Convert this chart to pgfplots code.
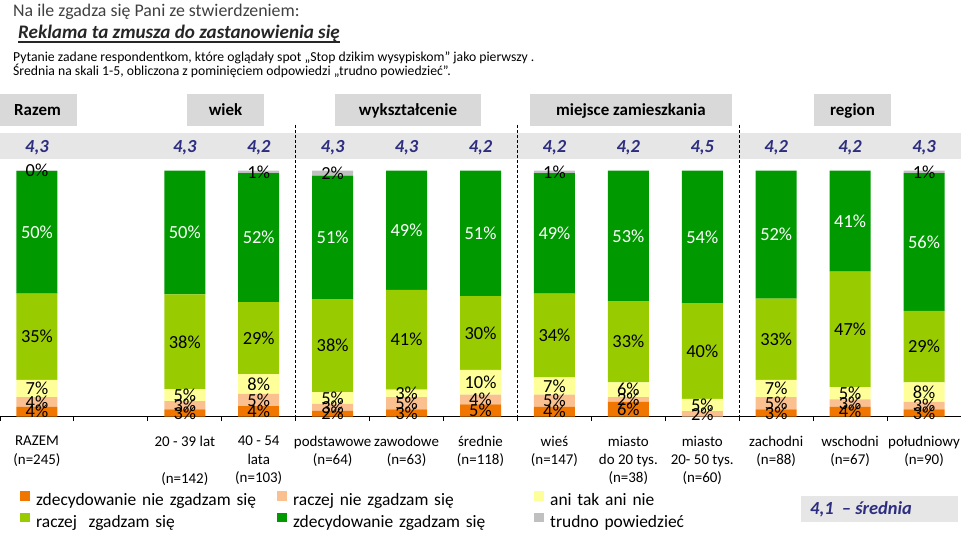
\documentclass[border=0pt]{standalone}
\usepackage{pgfplots}
\pgfplotsset{compat=1.18}
\usepackage{pgfplotstable}
\usepackage{fontspec}
\setmainfont{Carlito}
\definecolor{cOr}{RGB}{240,118,0}
\definecolor{cPe}{RGB}{250,192,144}
\definecolor{cYe}{RGB}{255,255,153}
\definecolor{cLg}{RGB}{153,204,0}
\definecolor{cGr}{RGB}{0,153,0}
\definecolor{cGy}{RGB}{192,192,192}
\definecolor{cNavy}{RGB}{46,46,128}
\definecolor{cHead}{RGB}{217,217,217}
\definecolor{cBand}{RGB}{230,230,230}
\definecolor{cTitle}{RGB}{64,64,64}
\definecolor{cDark}{RGB}{38,38,38}

\def\nolab{n}
\newcommand\pctlbl{\edef\tmp{\pgfplotspointmeta}\ifx\tmp\nolab\else\tmp\%\fi}

\pgfplotsset{
  sq/.style={legend image code/.code={\fill[##1] (0bp,-0.5bp) rectangle (9.5bp,9bp);}},
}

% shares in % (bottom to top): a = zdecydowanie nie, b = raczej nie, c = ani tak ani nie,
% d = raczej zgadzam, e = zdecydowanie zgadzam, f = trudno powiedziec; l* = printed labels
\pgfplotstableread{
x  a   b   c   d    e     f    la lb lc ld le lf
0  4   4   7   35   49.95 0.05 4  4  7  35 50 0
2  3   3.3 4.9 38.5 50.3  0    3  3  5  38 50 n
3  4.3 5   8   29.3 52.4  1    4  5  8  29 52 1
4  2.4 2.8 4.8 37.8 50.2  2    2  3  5  38 51 2
5  3   5   3   40.6 48.4  0    3  5  3  41 49 n
6  5   4   10  30   51    0    5  4  10 30 51 n
7  4   5   7   34   49    1    4  5  7  34 49 1
8  6   2   6   33   53    0    6  2  6  33 53 n
9  0   2.3 4.9 39   53.8  0    n  2  5  40 54 n
10 3   5   7   33   52    0    3  5  7  33 52 n
11 4   3   5   47   41    0    4  3  5  47 41 n
12 3   3   8   29   56    1    3  3  8  29 56 1
}\data

\begin{document}
\begin{tikzpicture}
\begin{axis}[
  at={(0bp,117.3bp)}, anchor=south west,
  scale only axis, width=961bp, height=246bp,
  xmin=-0.5, xmax=12.5, ymin=0, ymax=100,
  ybar stacked, bar width=41bp,
  axis x line*=bottom, axis y line=none,
  x axis line style={line width=1bp, black, -},
  xtick={0,...,12},
  xticklabels={
    {RAZEM\\(n=245)},
    {},
    {20 - 39 lat\\\mbox{}\\(n=142)},
    {40 - 54\\lata\\(n=103)},
    {podstawowe\\(n=64)},
    {zawodowe\\(n=63)},
    {średnie\\(n=118)},
    {wieś\\(n=147)},
    {miasto\\do 20 tys.\\(n=38)},
    {miasto\\20- 50 tys.\\(n=60)},
    {zachodni\\(n=88)},
    {wschodni\\(n=67)},
    {południowy\\(n=90)}},
  major tick length=0pt,
  minor xtick={-0.5,0.5,...,12.5},
  minor tick length=4.5bp,
  tick align=outside,
  minor tick style={black, line width=1bp},
  xticklabel style={font=\fontsize{15}{18.3}\selectfont, align=center, anchor=north, inner sep=0pt, yshift=-19.3bp},
  ytick=\empty,
  clip=false,
  point meta=explicit symbolic,
  nodes near coords={\pctlbl},
  every node near coord/.append style={font=\fontsize{18.5}{20}\selectfont, inner sep=0pt, anchor=center, text=black},
  legend columns=3,
  legend cell align=left,
  legend style={at={(0.0208,-0.302)}, anchor=north west, draw=none, fill=none, inner sep=0pt,
    font=\fontsize{17.5}{20}\selectfont, row sep=5.3bp,
    nodes={inner sep=0pt},
    /tikz/every odd column/.append style={column sep=6.5bp},
    /tikz/every even column/.append style={column sep=5bp, text width=236bp, text height=13bp, text depth=4bp}},
]
\addplot[fill=cOr, draw=none, sq] table[x=x, y=a, meta=la] {\data};
\addplot[fill=cPe, draw=none, sq] table[x=x, y=b, meta=lb] {\data};
\addplot[fill=cYe, draw=none, sq] table[x=x, y=c, meta=lc] {\data};
\addplot[fill=cLg, draw=none, sq] table[x=x, y=d, meta=ld] {\data};
\addplot[fill=cGr, draw=none, sq, every node near coord/.append style={text=white}] table[x=x, y=e, meta=le] {\data};
\addplot[fill=cGy, draw=none, sq] table[x=x, y=f, meta=lf] {\data};
\legend{zdecydowanie nie zgadzam się, raczej nie zgadzam się, ani tak ani nie, raczej\ \ zgadzam się, zdecydowanie zgadzam się, trudno powiedzieć}
\end{axis}

\begin{scope}[x=1bp, y=-1bp, yshift=534bp]
  % band with averages
  \fill[cBand] (0,133) rectangle (961,159);
  \foreach \xx in {295.7,517.4,739.2}
    \draw[dash pattern=on 3bp off 2bp, line width=1.2bp] (\xx,125) -- (\xx,416.7);
  \foreach \i/\v in {0/{4,3},2/{4,3},3/{4,2},4/{4,3},5/{4,3},6/{4,2},7/{4,2},8/{4,2},9/{4,5},10/{4,2},11/{4,2},12/{4,3}}
    \node[anchor=base, inner sep=0pt, text=cNavy, font=\fontsize{18.5}{20}\selectfont\bfseries\itshape] at ({(\i+0.5)*73.923},152.5) {\v};
  % group headers
  \fill[cHead] (0,94) rectangle (77,126);
  \fill[cHead] (187,94) rectangle (264,126);
  \fill[cHead] (335,94) rectangle (481,126);
  \fill[cHead] (530,94) rectangle (732,126);
  \fill[cHead] (814,94) rectangle (891,126);
  \begin{scope}[every node/.style={anchor=base, inner sep=0pt, font=\fontsize{17}{20}\selectfont\bfseries, text=black}]
    \node at (37.5,116) {Razem};
    \node at (225.5,116) {wiek};
    \node at (408,116) {wykształcenie};
    \node at (631,116) {miejsce zamieszkania};
    \node at (852.5,116) {region};
  \end{scope}
  % titles
  \node[anchor=base west, inner sep=0pt, text=cTitle, font=\fontsize{17.9}{20}\selectfont] at (13,17) {Na ile zgadza się Pani ze stwierdzeniem:};
  \node[anchor=base west, inner sep=0pt, text=cDark, font=\fontsize{19.2}{22}\selectfont\bfseries\itshape] (t2) at (18,39) {Reklama ta zmusza do zastanowienia się};
  \draw[line width=1.3bp, cDark] ([yshift=-3bp]t2.base west) -- ([yshift=-3bp]t2.base east);
  \node[anchor=base west, inner sep=0pt, text=black, font=\fontsize{13.75}{16}\selectfont] at (13,62) {Pytanie zadane respondentkom, które oglądały spot „Stop dzikim wysypiskom” jako pierwszy .};
  \node[anchor=base west, inner sep=0pt, text=black, font=\fontsize{13.75}{16}\selectfont] at (13,76) {Średnia na skali 1-5, obliczona z pominięciem odpowiedzi „trudno powiedzieć”.};
  % average key
  \fill[cBand] (801,496) rectangle (958,522);
  \node[anchor=base west, inner sep=0pt, text=cNavy, font=\fontsize{18.5}{20}\selectfont\bfseries\itshape] at (810,515) {4,1\ \ – średnia};
\end{scope}
\pgfresetboundingbox
\path (0,0) rectangle (961bp,534bp);
\end{tikzpicture}
\end{document}
